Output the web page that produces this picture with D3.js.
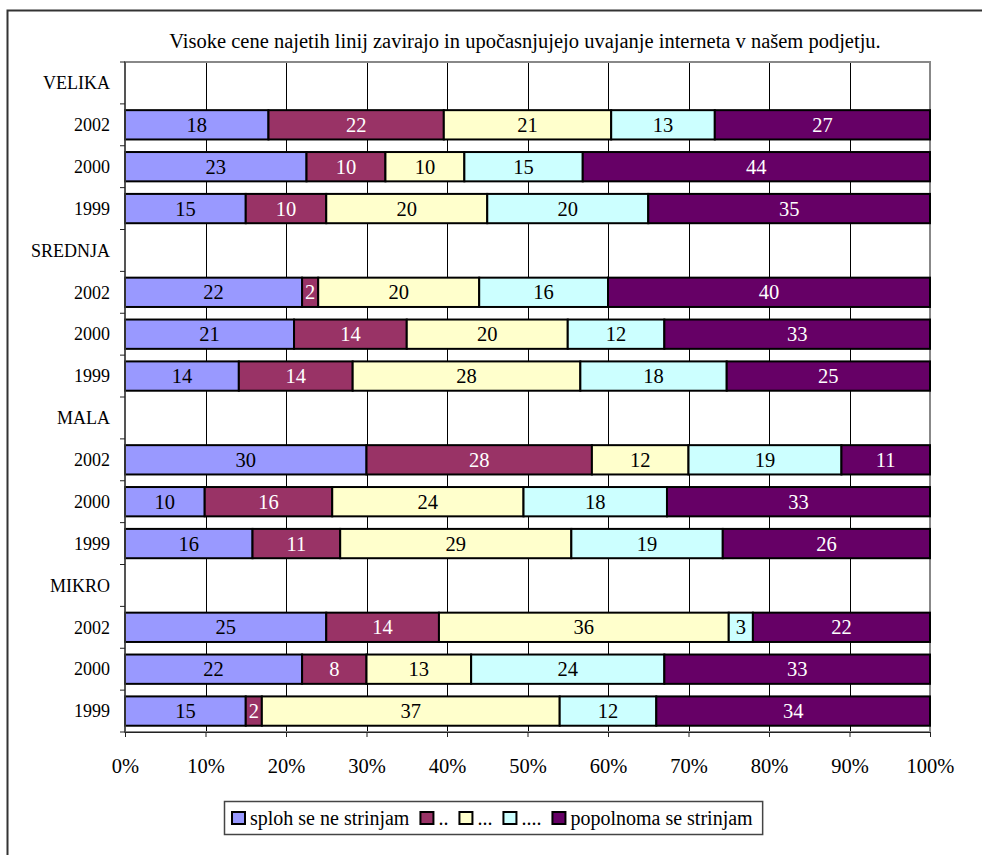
<!DOCTYPE html>
<html>
<head>
<meta charset="utf-8">
<script src="https://cdn.jsdelivr.net/npm/d3@7"></script>
<style>
  body { margin: 0; background: #fff; }
</style>
</head>
<body>
<div id="chart"></div>
<script>
// Data
const title = "Visoke cene najetih linij zavirajo in upočasnjujejo uvajanje interneta v našem podjetju.";
const groups = ["VELIKA", "SREDNJA", "MALA", "MIKRO"];
const years = ["2002", "2000", "1999"];
const seriesNames = ["sploh se ne strinjam", "..", "...", "....", "popolnoma se strinjam"];
const seriesColors = ["#9999ff", "#993366", "#ffffcc", "#ccffff", "#660066"];
const labelColors = ["#000", "#fff", "#000", "#000", "#fff"];
const xTicks = [0, 0.1, 0.2, 0.3, 0.4, 0.5, 0.6, 0.7, 0.8, 0.9, 1];

// one value per group/year row (VELIKA 2002, 2000, 1999, SREDNJA 2002, ...)
const s1 = [18, 23, 15, 22, 21, 14, 30, 10, 16, 25, 22, 15];
const s2 = [22, 10, 10, 2, 14, 14, 28, 16, 11, 14, 8, 2];
const s3 = [21, 10, 20, 20, 20, 28, 12, 24, 29, 36, 13, 37];
const s4 = [13, 15, 20, 16, 12, 18, 19, 18, 19, 3, 24, 12];
const s5 = [27, 44, 35, 40, 33, 25, 11, 33, 26, 22, 33, 34];
const seriesValues = [s1, s2, s3, s4, s5];

const FONT = "'Liberation Serif', 'Times New Roman', Tinos, 'DejaVu Serif', serif";
const width = 982, height = 855;
const margin = { top: 62, right: 52, bottom: 123, left: 125 };

const svg = d3.select("#chart").append("svg")
  .attr("width", width)
  .attr("height", height)
  .style("font-family", FONT);

// outer frame (runs off the right and bottom edge like the source)
svg.append("rect")
  .attr("x", 7.5).attr("y", 10.5)
  .attr("width", 1000).attr("height", 900)
  .attr("fill", "none").attr("stroke", "#333").attr("stroke-width", 2);

// categories: group header row + one row per year
const rows = [];
let k = 0;
groups.forEach(g => {
  rows.push({ key: g, label: g, header: true });
  years.forEach(y => {
    const r = { key: g + "-" + y, label: y, header: false };
    seriesNames.forEach((s, i) => r[s] = seriesValues[i][k]);
    rows.push(r);
    k++;
  });
});
const dataRows = rows.filter(r => !r.header);

const x = d3.scaleLinear().domain([0, 1]).range([margin.left, width - margin.right]);
const y = d3.scaleBand().domain(rows.map(r => r.key))
  .range([margin.top, height - margin.bottom])
  .paddingInner(0.3).paddingOuter(0.15);

// title
svg.append("text")
  .attr("x", 525).attr("y", 48)
  .attr("text-anchor", "middle")
  .attr("font-family", FONT)
  .attr("font-size", 20.5)
  .text(title);

// gridlines
svg.append("g")
  .selectAll("line")
  .data(xTicks.slice(1, -1))
  .join("line")
  .attr("x1", d => Math.round(x(d)) + 0.5).attr("x2", d => Math.round(x(d)) + 0.5)
  .attr("y1", margin.top).attr("y2", height - margin.bottom)
  .attr("stroke", "#000").attr("stroke-width", 1);

// plot border (gray)
svg.append("rect")
  .attr("x", x(0)).attr("y", margin.top)
  .attr("width", x(1) - x(0)).attr("height", height - margin.bottom - margin.top)
  .attr("fill", "none").attr("stroke", "#888").attr("stroke-width", 2);

// stacked bars (normalized to 100%)
const stack = d3.stack().keys(seriesNames).offset(d3.stackOffsetExpand);
const layers = stack(dataRows);

const layerG = svg.append("g")
  .selectAll("g")
  .data(layers)
  .join("g")
  .attr("fill", (d, i) => seriesColors[i]);

layerG.selectAll("rect")
  .data(d => d)
  .join("rect")
  .attr("x", d => x(d[0]))
  .attr("y", d => y(d.data.key))
  .attr("width", d => x(d[1]) - x(d[0]))
  .attr("height", y.bandwidth())
  .attr("stroke", "#000")
  .attr("stroke-width", 2);

layerG.selectAll("text")
  .data((d, i) => d.map(p => ({ p, i, v: p.data[seriesNames[i]] })))
  .join("text")
  .attr("x", d => (x(d.p[0]) + x(d.p[1])) / 2)
  .attr("y", d => y(d.p.data.key) + y.bandwidth() / 2)
  .attr("dy", "0.35em")
  .attr("text-anchor", "middle")
  .attr("font-family", FONT)
  .attr("font-size", 20.5)
  .attr("fill", d => labelColors[d.i])
  .text(d => d.v);

// y axis
const yAxis = svg.append("g")
  .attr("transform", `translate(${x(0)},0)`);
yAxis.append("line")
  .attr("y1", margin.top).attr("y2", height - margin.bottom)
  .attr("stroke", "#444").attr("stroke-width", 1.5);
// ticks between categories
const bounds = rows.map(r => y(r.key) - y.step() * y.paddingInner() / 2);
bounds.push(height - margin.bottom);
yAxis.selectAll(".tk")
  .data(bounds)
  .join("line")
  .attr("x1", -5).attr("x2", 0)
  .attr("y1", d => d).attr("y2", d => d)
  .attr("stroke", "#222");
yAxis.selectAll("text")
  .data(rows)
  .join("text")
  .attr("x", -15)
  .attr("y", d => y(d.key) + y.bandwidth() / 2)
  .attr("dy", "0.35em")
  .attr("text-anchor", "end")
  .attr("font-family", FONT)
  .attr("font-size", 18)
  .text(d => d.label);

// x axis
const xAxis = svg.append("g")
  .attr("transform", `translate(0,${height - margin.bottom})`)
  .call(d3.axisBottom(x).tickValues(xTicks).tickFormat(d3.format(".0%")).tickSize(5).tickPadding(21));
xAxis.attr("font-family", FONT);
xAxis.select(".domain").attr("stroke", "#222").attr("stroke-width", 1);
xAxis.selectAll(".tick line").attr("stroke", "#222");
xAxis.selectAll(".tick text")
  .attr("font-family", FONT)
  .attr("font-size", 20.5)
  .attr("fill", "#000");

// legend
const legend = svg.append("g");
const legendBox = legend.append("rect")
  .attr("x", 224.5).attr("y", 801.5)
  .attr("height", 33)
  .attr("fill", "#fff").attr("stroke", "#444").attr("stroke-width", 1.5);
let lx = 231;
seriesNames.forEach((s, i) => {
  legend.append("rect")
    .attr("x", lx + 1).attr("y", 812)
    .attr("width", 13).attr("height", 12)
    .attr("fill", seriesColors[i])
    .attr("stroke", "#000").attr("stroke-width", 2);
  const t = legend.append("text")
    .attr("x", lx + 19).attr("y", 825)
    .attr("font-family", FONT)
    .attr("font-size", 20)
    .text(s);
  lx += 19 + t.node().getComputedTextLength() + 10;
});
legendBox.attr("width", lx - 224.5);
</script>
</body>
</html>
